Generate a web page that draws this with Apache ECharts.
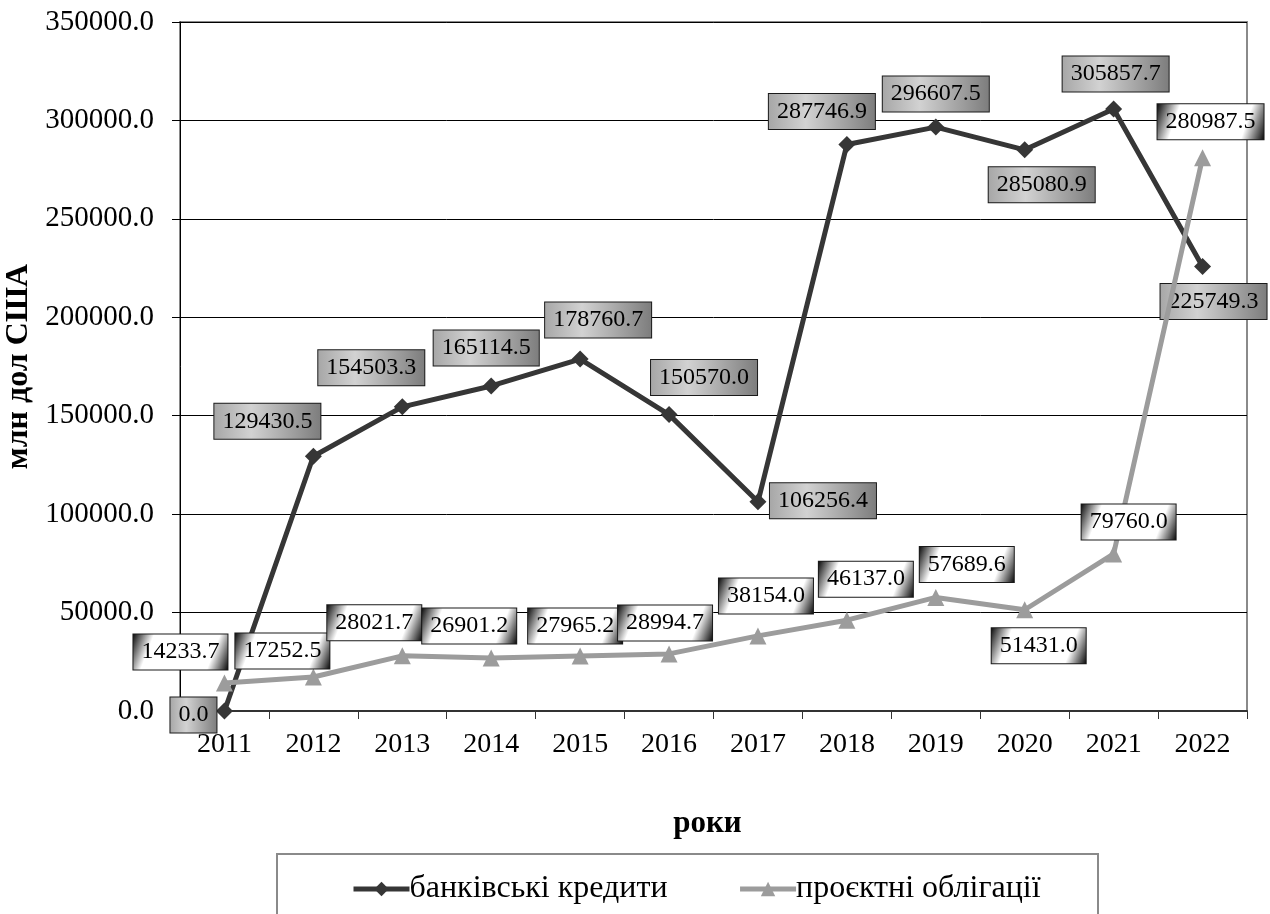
<!DOCTYPE html>
<html>
<head>
<meta charset="utf-8">
<script src="https://cdn.jsdelivr.net/npm/echarts@6/dist/echarts.min.js"></script>
<style>
  html, body { margin: 0; padding: 0; background: #fff; }
  #chart { width: 1270px; height: 914px; }
</style>
</head>
<body>
<div id="chart"></div>
<script>
// Years on the category axis
const years = ['2011', '2012', '2013', '2014', '2015', '2016', '2017', '2018', '2019', '2020', '2021', '2022'];

// Bank loans, million USD
const bankLoans = [0.0, 129430.5, 154503.3, 165114.5, 178760.7, 150570.0, 106256.4, 287746.9, 296607.5, 285080.9, 305857.7, 225749.3];

// Project bonds, million USD
const projectBonds = [14233.7, 17252.5, 28021.7, 26901.2, 27965.2, 28994.7, 38154.0, 46137.0, 57689.6, 51431.0, 79760.0, 280987.5];

// Value-axis ticks
const yMin = 0, yMax = 350000, yStep = 50000;

// Label placement relative to each point (pixels)
const bankLabelOffsets = [[-31, 4], [-46, -35], [-31, -39], [-5, -38], [18, -39], [35, -37], [65, -1], [-25, -33], [0, -33], [17, 35], [2, -35], [11, 35]];
const bondLabelOffsets = [[-44, -31], [-31, -26], [-28, -33], [-22, -32], [-5, -30], [-4, -31], [8, -40], [19, -41], [31, -33], [14, 36], [15, -32], [8, -36]];

const FONT = '"Liberation Serif", "Times New Roman", serif';

const chart = echarts.init(document.getElementById('chart'), null, { renderer: 'canvas' });

const greyLabelBg = new echarts.graphic.LinearGradient(0, 0, 1, 0, [
  { offset: 0, color: '#a6a6a6' },
  { offset: 0.35, color: '#d2d2d2' },
  { offset: 1, color: '#7c7c7c' }
]);
const whiteLabelBg = new echarts.graphic.LinearGradient(0, 0, 1, 1, [
  { offset: 0, color: '#000000' },
  { offset: 0.2, color: '#ffffff' },
  { offset: 0.8, color: '#ffffff' },
  { offset: 1, color: '#000000' }
]);

function labelBase(bg) {
  return {
    show: true,
    position: 'inside',
    fontFamily: FONT,
    fontSize: 24,
    lineHeight: 25,
    color: '#000',
    backgroundColor: bg,
    borderColor: '#1a1a1a',
    borderWidth: 1,
    padding: [5, 8, 5, 8],
    formatter: p => Number(p.value).toFixed(1)
  };
}

function withOffsets(values, offsets) {
  return values.map((v, i) => ({ value: v, label: { offset: offsets[i] } }));
}

chart.setOption({
  animation: false,
  backgroundColor: '#fff',
  grid: {
    left: 180, right: 23, top: 22, bottom: 203,
    containLabel: false,
    outerBoundsMode: 'none',
    show: true, borderColor: '#8a8a8a', borderWidth: 2, backgroundColor: 'transparent'
  },
  xAxis: {
    type: 'category',
    data: years,
    boundaryGap: true,
    name: 'роки',
    nameLocation: 'middle',
    nameGap: 97,
    nameTextStyle: { fontFamily: FONT, fontSize: 31, fontWeight: 'bold', color: '#000', padding: [0, 12, 0, 0] },
    axisLine: { lineStyle: { color: '#333', width: 2 } },
    axisTick: { show: true, alignWithLabel: false, length: 8, lineStyle: { color: '#333', width: 1 } },
    axisLabel: { fontFamily: FONT, fontSize: 28, color: '#000', margin: 20 },
    splitLine: { show: false }
  },
  yAxis: {
    type: 'value',
    min: yMin, max: yMax, interval: yStep,
    name: 'млн дол США',
    nameLocation: 'middle',
    nameGap: 143,
    nameRotate: 90,
    nameTextStyle: { fontFamily: FONT, fontSize: 32, fontWeight: 'bold', color: '#000' },
    axisLine: { show: true, lineStyle: { color: '#000', width: 1 } },
    axisTick: { show: true, length: 8, lineStyle: { color: '#000' } },
    axisLabel: { fontFamily: FONT, fontSize: 29, color: '#000', margin: 26, formatter: v => v.toFixed(1) },
    splitLine: { show: true, lineStyle: { color: '#000', width: 1 } }
  },
  legend: {
    left: 346,
    top: 868,
    itemWidth: 56,
    itemHeight: 18,
    itemGap: 70,
    lineStyle: { width: 5 },
    textStyle: { fontFamily: FONT, fontSize: 32, color: '#000', padding: [0, 0, 0, -5] },
    data: ['банківські кредити', 'проєктні облігації']
  },
  graphic: [{
    type: 'rect',
    shape: { x: 277, y: 854, width: 821, height: 80 },
    style: { fill: 'none', stroke: '#8a8a8a', lineWidth: 2 },
    silent: true
  }],
  series: [
    {
      name: 'банківські кредити',
      type: 'line',
      data: withOffsets(bankLoans, bankLabelOffsets),
      symbol: 'diamond',
      symbolSize: 17,
      lineStyle: { color: '#363636', width: 5 },
      itemStyle: { color: '#363636' },
      label: labelBase(greyLabelBg),
      z: 3
    },
    {
      name: 'проєктні облігації',
      type: 'line',
      data: withOffsets(projectBonds, bondLabelOffsets),
      symbol: 'triangle',
      symbolSize: 17,
      lineStyle: { color: '#9c9c9c', width: 5 },
      itemStyle: { color: '#9c9c9c' },
      label: labelBase(whiteLabelBg),
      z: 4
    }
  ]
});
</script>
</body>
</html>
